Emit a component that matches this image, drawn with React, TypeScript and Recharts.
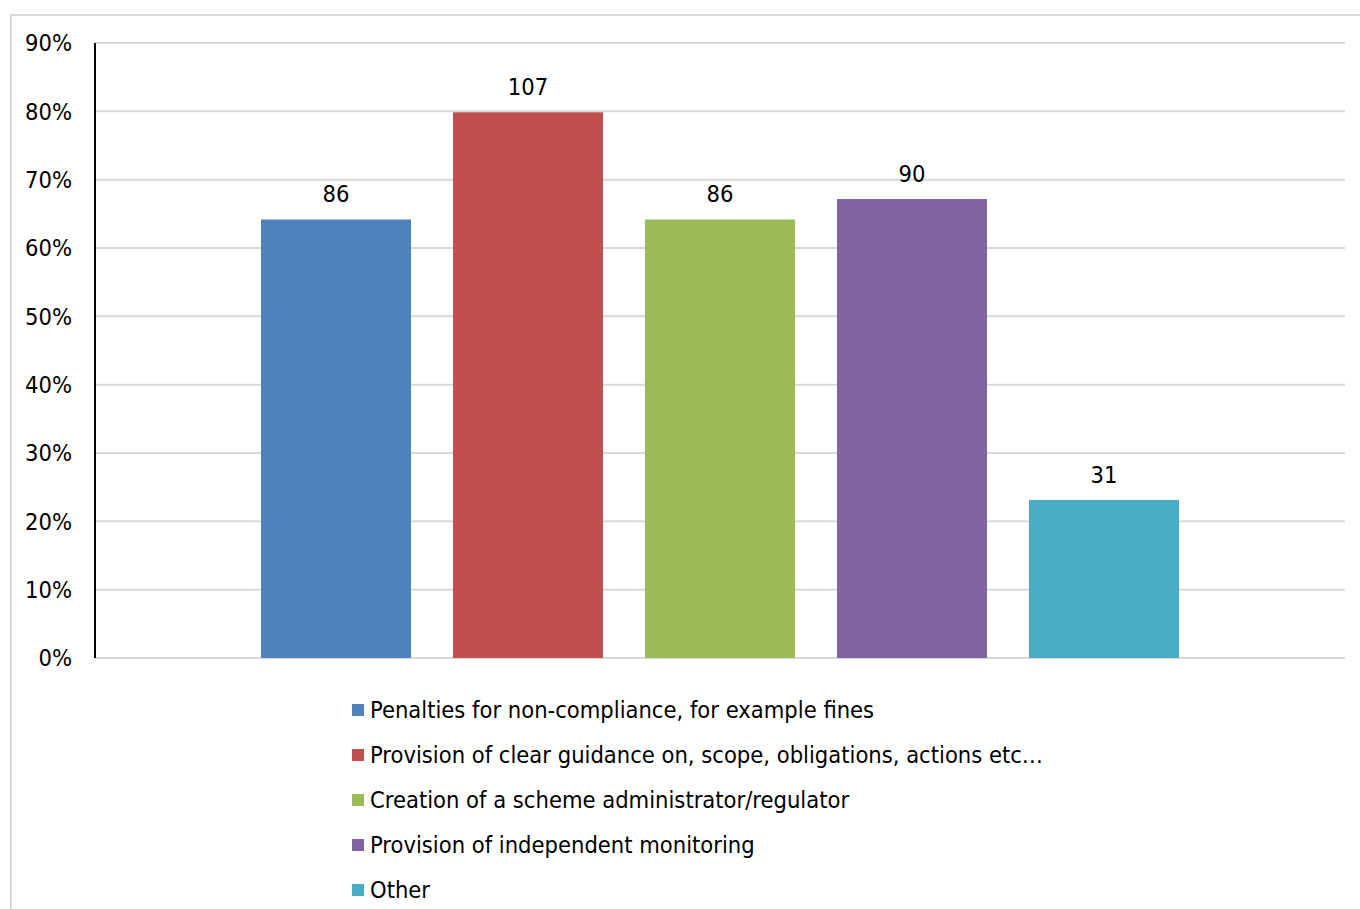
import { BarChart, Bar, XAxis, YAxis, CartesianGrid, Legend, LabelList } from "recharts";

// Survey answers: how many respondents picked each measure
const measures = [
  "Penalties for non-compliance, for example fines",
  "Provision of clear guidance on, scope, obligations, actions etc…",
  "Creation of a scheme administrator/regulator",
  "Provision of independent monitoring",
  "Other",
];
const counts = [86, 107, 86, 90, 31];
const respondents = 134;
const colors = ["#4F81BD", "#C0504D", "#9BBB59", "#8064A2", "#4BACC6"];
const yTicks = [0, 0.1, 0.2, 0.3, 0.4, 0.5, 0.6, 0.7, 0.8, 0.9];

const FONT = "'DejaVu Sans Condensed', 'DejaVu Sans', sans-serif";
const FONT_SIZE = 23.5;

// single category row, one key per measure (share + raw count for the label)
const row: Record<string, string | number> = { name: "all" };
counts.forEach((c, i) => {
  row[`s${i}`] = c / respondents;
  row[`c${i}`] = c;
});
const data = [row];

// legend keeps the series order instead of sorting by name
function LegendList() {
  return (
    <ul style={{ listStyle: "none", margin: 0, padding: 0, fontFamily: FONT, fontSize: FONT_SIZE, color: "#000" }}>
      {measures.map((m, i) => (
        <li key={m} style={{ height: 45, display: "flex", alignItems: "center" }}>
          <span style={{ width: 12, height: 12, background: colors[i], marginRight: 6, display: "inline-block" }} />
          {m}
        </li>
      ))}
    </ul>
  );
}

export default function App() {
  return (
    <div style={{ position: "absolute", left: 0, top: 0, width: 1360, height: 909, overflow: "hidden", background: "#fff" }}>
      <div
        style={{
          position: "absolute",
          left: 10,
          top: 14,
          width: 1400,
          height: 1000,
          border: "2px solid #d9d9d9",
          boxSizing: "border-box",
        }}
      />
      <BarChart
        width={1360}
        height={909}
        data={data}
        margin={{ top: 43, right: 15, bottom: 251, left: 0 }}
        barGap={42}
        barCategoryGap={166}
        style={{ position: "absolute", left: 0, top: 0 }}
      >
        <CartesianGrid vertical={false} stroke="#d9d9d9" strokeWidth={2} />
        <XAxis dataKey="name" hide />
        <YAxis
          width={95}
          domain={[0, 0.9]}
          ticks={yTicks}
          interval={0}
          tickFormatter={(v: number) => `${Math.round(v * 100)}%`}
          tickLine={false}
          tickSize={0}
          tickMargin={23}
          axisLine={{ stroke: "#000", strokeWidth: 2 }}
          tick={{ fill: "#000", fontSize: FONT_SIZE, fontFamily: FONT }}
        />
        <Legend
          layout="horizontal"
          verticalAlign="middle"
          align="center"
          content={<LegendList />}
          wrapperStyle={{ top: 687, left: 352, width: 800 }}
        />
        {measures.map((m, i) => (
          <Bar key={m} dataKey={`s${i}`} name={m} fill={colors[i]} isAnimationActive={false}>
            <LabelList
              dataKey={`c${i}`}
              position="top"
              offset={17}
              style={{ fill: "#000", fontSize: FONT_SIZE, fontFamily: FONT }}
            />
          </Bar>
        ))}
      </BarChart>
    </div>
  );
}
